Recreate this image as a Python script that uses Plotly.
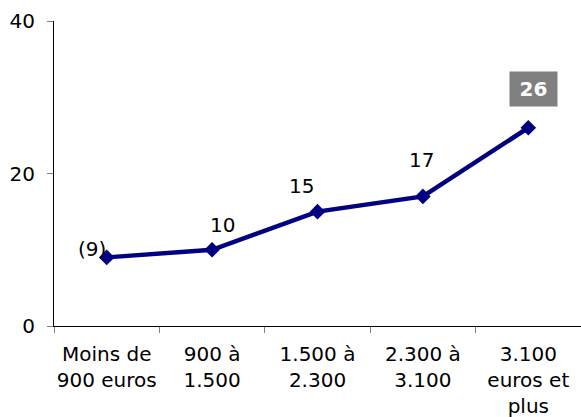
import plotly.graph_objects as go

categories = ["Moins de<br>900 euros", "900 à<br>1.500", "1.500 à<br>2.300", "2.300 à<br>3.100", "3.100<br>euros et<br>plus"]
values = [9, 10, 15, 17, 26]
labels = ["(9)", "10", "15", "17", "26"]
y_ticks = [0, 20, 40]

FONT = "DejaVu Sans, Verdana, sans-serif"
NAVY = "#000080"

fig = go.Figure()
fig.add_trace(go.Scatter(
    x=categories, y=values, mode="lines+markers",
    line=dict(color=NAVY, width=4.5),
    marker=dict(symbol="diamond", size=12, color=NAVY),
    hoverinfo="skip", cliponaxis=False,
))

shifts = [(-15, 8), (10, 25), (-16, 26), (-1, 36), (5, 39)]
for i, (c, v, t) in enumerate(zip(categories, values, labels)):
    dx, dy = shifts[i]
    last = i == len(values) - 1
    extra = dict(bgcolor="#808080", width=39, height=26, borderpad=4) if last else dict(borderpad=0)
    fig.add_annotation(
        x=c, y=v, text=f"<b>{t}</b>" if last else t, showarrow=False,
        xshift=dx, yshift=dy,
        font=dict(family=FONT, size=20, color="white" if last else "black"),
        **extra,
    )

fig.update_layout(
    width=581, height=417,
    margin=dict(l=54, r=0, t=21, b=91),
    paper_bgcolor="white", plot_bgcolor="white",
    showlegend=False,
    font=dict(family=FONT, size=20, color="black"),
)
fig.update_xaxes(
    range=[-0.5, len(categories) - 0.5],
    showline=True, linecolor="black", linewidth=1,
    ticks="outside", ticklen=6, tickcolor="#808080",
    tickson="boundaries", showgrid=False, automargin=False,
    tickangle=0, ticklabelstandoff=10,
    tickfont=dict(family=FONT, size=20, color="black"),
)
fig.update_yaxes(
    range=[0, 40], tickvals=y_ticks, showline=True, linecolor="black", linewidth=1,
    ticks="outside", ticklen=6, tickcolor="#808080", showgrid=False, zeroline=False,
    automargin=False,
    tickfont=dict(family=FONT, size=20, color="black"),
    ticklabelstandoff=8,
)

fig.write_html(
    "out.html",
    config={"displayModeBar": False, "staticPlot": True},
    post_script="document.body.style.margin='0';document.body.style.overflow='hidden';",
)
